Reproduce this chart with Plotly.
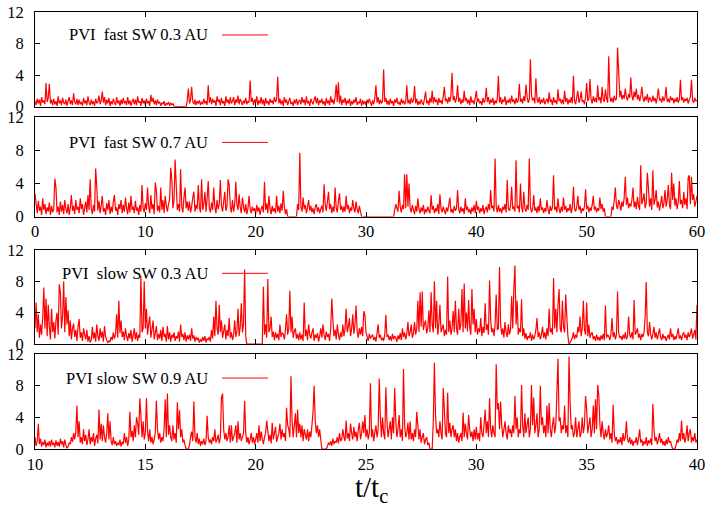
import numpy as np
import plotly.graph_objects as go

# ---------------- data ----------------
fast_t0 = 0.0
fast_dt = 0.1
slow_t0 = 10.0
slow_dt = 0.05

pvi_fast_03 = [
    0.7, 0.2, 1.0, 0.4, 0.9, 0.1, 1.2, 0.5, 0.8, 0.3, 3.0, 0.6, 1.1, 2.9, 0.4, 0.9, 0.2, 1.0, 0.3, 0.7,
    0.1, 1.3, 0.4, 0.8, 0.2, 1.1, 0.5, 0.3, 0.9, 0.1, 0.7, 1.2, 0.3, 0.8, 0.2, 1.7, 0.6, 0.3, 1.0, 0.2,
    0.9, 0.3, 0.6, 0.1, 1.1, 0.4, 0.8, 0.2, 1.3, 0.5, 0.2, 0.9, 0.3, 0.7, 0.1, 1.0, 0.4, 0.6, 1.4, 0.3,
    0.8, 1.9, 0.5, 1.2, 0.2, 0.9, 0.4, 1.1, 0.1, 0.7, 0.3, 1.0, 0.5, 0.2, 1.2, 0.4, 0.8, 0.1, 0.9, 0.3,
    1.1, 0.4, 0.7, 0.2, 1.2, 0.3, 0.8, 0.1, 0.6, 1.0, 0.3, 0.9, 0.2, 1.3, 0.5, 0.7, 0.1, 1.1, 0.4, 0.8,
    0.2, 1.0, 0.4, 0.7, 0.1, 1.5, 0.6, 1.1, 0.3, 0.8, 0.2, 0.9, 0.4, 0.6, 0.1, 0.5, 0.3, 0.7, 0.1, 0.4,
    0.3, 0.6, 0.1, 0.5, 0.2, 0.4, 0.1, 0.0, 0.0, 0.0, 0.0, 0.0, 0.0, 0.0, 0.0, 0.0, 0.0, 0.0, 0.8, 2.3,
    0.4, 0.9, 2.5, 0.6, 0.3, 0.9, 0.2, 0.7, 0.4, 0.8, 0.2, 0.6, 0.3, 1.0, 0.4, 0.7, 0.2, 2.7, 0.5, 1.2,
    0.3, 1.0, 0.5, 0.8, 0.1, 1.3, 0.6, 0.9, 0.2, 1.1, 0.4, 0.7, 0.1, 1.3, 0.5, 0.9, 0.3, 1.2, 0.4, 0.7,
    1.2, 0.2, 0.9, 0.5, 1.4, 0.3, 1.0, 0.6, 0.2, 0.8, 0.4, 1.1, 0.3, 0.7, 0.5, 3.3, 0.6, 1.1, 0.2, 0.9,
    0.5, 1.3, 0.2, 0.8, 0.4, 1.2, 0.3, 0.9, 0.1, 1.1, 0.4, 0.7, 0.2, 1.0, 0.5, 0.8, 0.3, 1.2, 0.6, 0.9,
    3.8, 0.4, 1.0, 0.3, 0.8, 0.1, 1.2, 0.5, 0.9, 0.2, 0.7, 1.1, 0.3, 0.6, 0.1, 0.9, 0.4, 1.0, 0.2, 0.7,
    0.8, 0.3, 1.2, 0.5, 0.9, 0.2, 1.3, 0.4, 0.7, 0.1, 1.0, 0.6, 0.3, 0.9, 1.3, 0.4, 1.1, 0.2, 0.8, 0.5,
    1.0, 0.3, 0.7, 0.1, 1.1, 0.4, 0.8, 0.2, 1.3, 0.5, 0.9, 0.3, 1.2, 2.8, 0.6, 3.1, 0.4, 1.4, 0.2, 0.9,
    0.5, 1.1, 0.2, 0.8, 0.4, 1.0, 0.1, 0.7, 0.3, 0.9, 0.5, 1.2, 0.2, 0.6, 0.4, 1.0, 0.1, 0.8, 0.3, 0.7,
    0.2, 0.9, 0.4, 1.0, 0.6, 0.1, 0.8, 0.3, 1.1, 2.7, 0.5, 1.2, 0.3, 0.9, 0.4, 0.7, 4.7, 0.6, 1.1, 0.3,
    0.8, 0.2, 1.0, 0.4, 0.7, 0.1, 0.9, 0.5, 1.1, 0.3, 0.6, 0.2, 1.0, 0.4, 0.8, 0.3, 0.6, 2.7, 0.4, 0.9,
    0.3, 1.1, 0.5, 0.8, 2.6, 0.4, 1.0, 0.2, 0.7, 0.3, 0.9, 0.5, 0.2, 1.0, 1.9, 0.4, 0.8, 0.2, 1.1, 0.5,
    2.0, 0.4, 1.2, 0.6, 0.9, 0.2, 1.1, 0.5, 0.8, 0.3, 1.3, 2.5, 0.7, 1.0, 0.4, 1.2, 0.6, 1.5, 4.3, 0.8,
    1.3, 0.5, 1.0, 2.7, 0.6, 1.1, 0.3, 0.9, 0.5, 2.0, 0.7, 1.1, 0.4, 0.9, 0.2, 1.3, 0.5, 0.8, 0.3, 1.1,
    2.0, 0.6, 1.0, 0.4, 0.7, 0.2, 1.1, 0.5, 0.8, 2.4, 0.6, 1.2, 0.3, 0.9, 0.5, 1.1, 0.2, 0.8, 0.4, 1.0,
    3.9, 0.5, 1.2, 0.3, 0.9, 0.6, 1.3, 0.2, 0.8, 0.5, 1.0, 0.4, 1.4, 0.6, 0.9, 0.3, 1.1, 0.5, 0.8, 2.9,
    0.6, 1.0, 0.4, 1.3, 0.7, 2.8, 1.3, 0.5, 0.9, 6.0, 1.5, 0.8, 1.1, 0.4, 3.6, 0.9, 0.5, 1.2, 0.3, 0.9,
    0.5, 1.1, 0.3, 0.7, 1.0, 0.4, 1.8, 0.6, 0.9, 0.2, 1.2, 0.5, 0.8, 0.3, 2.2, 0.7, 1.0, 0.4, 0.9, 0.3,
    2.0, 0.6, 1.1, 0.3, 0.9, 0.5, 1.2, 0.4, 3.9, 0.7, 0.3, 1.2, 2.0, 0.5, 0.9, 1.9, 0.6, 0.8, 0.3, 1.2,
    3.0, 0.7, 1.0, 3.5, 0.9, 0.4, 1.3, 0.6, 1.1, 0.5, 2.7, 0.8, 1.2, 0.4, 2.5, 0.9, 0.6, 2.2, 1.0, 0.5,
    6.4, 1.3, 0.6, 1.1, 0.5, 1.4, 0.8, 1.0, 7.5, 4.5, 1.2, 2.0, 0.9, 1.5, 1.0, 2.3, 1.2, 0.8, 1.6, 1.1,
    3.7, 1.4, 0.8, 1.9, 1.2, 2.3, 0.9, 1.5, 0.7, 1.3, 2.5, 1.1, 0.6, 1.3, 0.8, 1.6, 0.5, 1.2, 0.9, 0.6,
    1.4, 0.7, 1.1, 0.4, 1.2, 2.3, 0.8, 1.0, 0.5, 1.3, 0.7, 1.1, 2.5, 0.6, 1.0, 0.5, 1.3, 0.8, 1.1, 0.4,
    1.0, 0.6, 1.2, 0.5, 0.9, 3.4, 0.8, 1.2, 0.5, 1.0, 0.7, 1.1, 0.4, 0.9, 1.2, 3.4, 0.8, 0.5, 1.1, 0.7,
    0.8,
]

pvi_fast_07 = [
    2.8, 1.6, 0.4, 1.9, 0.7, 1.2, 0.2, 2.2, 0.8, 1.5, 0.3, 1.1, 0.6, 1.7, 0.2, 1.3, 0.5, 0.9, 4.6, 3.5,
    0.5, 1.2, 0.2, 1.8, 0.6, 1.4, 0.3, 2.0, 0.9, 0.4, 1.5, 0.2, 1.1, 2.6, 0.7, 1.3, 0.3, 2.0, 0.8, 1.2,
    0.4, 2.2, 0.9, 1.5, 0.2, 1.0, 1.8, 0.5, 2.6, 0.8, 4.5, 1.0, 0.3, 1.4, 0.6, 5.8, 3.5, 0.7, 1.9, 0.4,
    1.3, 2.5, 0.6, 1.0, 0.2, 1.6, 0.8, 2.0, 0.3, 1.2, 0.5, 1.8, 2.6, 0.7, 1.1, 0.2, 1.5, 0.9, 2.0, 0.4,
    1.4, 0.6, 2.3, 1.0, 0.3, 1.7, 0.5, 2.5, 0.8, 1.2, 0.4, 1.9, 0.7, 1.1, 0.2, 1.4, 0.6, 3.8, 1.0, 0.5,
    1.6, 0.8, 3.5, 1.2, 0.4, 2.6, 0.9, 1.5, 0.3, 4.1, 3.1, 0.7, 1.3, 0.5, 3.5, 0.8, 2.0, 0.4, 2.5, 1.3,
    0.6, 1.5, 2.0, 5.9, 4.5, 1.0, 2.0, 6.9, 3.8, 0.8, 1.5, 0.6, 5.7, 1.2, 0.5, 2.3, 3.5, 1.0, 1.8, 0.7,
    1.8, 0.5, 1.2, 2.3, 3.0, 0.6, 1.4, 0.9, 3.8, 1.1, 0.5, 4.5, 0.8, 1.5, 3.0, 0.6, 2.2, 4.3, 1.0, 0.5,
    1.7, 0.8, 3.5, 1.2, 0.4, 2.0, 0.9, 1.5, 4.4, 1.3, 0.6, 1.8, 3.0, 0.7, 1.2, 4.5, 3.8, 1.2, 0.5, 2.0,
    0.6, 1.4, 4.2, 1.5, 0.8, 2.7, 1.1, 0.4, 2.3, 1.2, 0.5, 1.5, 0.3, 1.0, 2.5, 0.9, 0.4, 1.2, 0.7, 1.0,
    0.3, 1.4, 0.6, 1.1, 0.2, 0.9, 1.3, 0.5, 4.2, 0.8, 1.6, 0.4, 2.5, 1.0, 0.3, 1.3, 0.6, 1.0, 0.4, 2.5,
    0.6, 1.3, 0.4, 1.6, 0.7, 3.1, 1.2, 0.3, 0.9, 0.0, 0.0, 0.0, 0.0, 0.0, 0.0, 0.0, 0.0, 0.0, 1.5, 0.8,
    7.7, 1.2, 0.6, 2.3, 0.9, 1.4, 0.4, 1.1, 2.0, 0.7, 1.3, 0.5, 1.0, 0.3, 1.2, 1.5, 0.6, 1.1, 0.4, 0.9,
    1.3, 0.5, 3.9, 1.4, 0.7, 1.8, 3.0, 0.9, 1.5, 0.4, 1.2, 0.6, 3.5, 1.0, 0.5, 1.9, 2.8, 0.8, 1.3, 0.5,
    1.2, 0.6, 2.5, 0.9, 1.4, 0.4, 1.1, 0.7, 2.0, 1.0, 0.5, 1.8, 0.9, 0.4, 1.3, 0.6, 0.0, 0.0, 0.0, 0.0,
    0.0, 0.0, 0.0, 0.0, 0.0, 0.0, 0.0, 0.0, 0.0, 0.0, 0.0, 0.0, 0.0, 0.0, 0.0, 0.0, 0.0, 0.0, 0.0, 0.0,
    0.0, 0.0, 0.0, 0.0, 0.0, 0.0, 0.8, 1.5, 1.0, 0.6, 3.1, 1.2, 0.5, 1.4, 0.9, 5.1, 1.0, 5.1, 1.2, 4.0,
    1.0, 0.5, 1.4, 0.8, 0.3, 1.3, 0.6, 2.2, 0.9, 0.4, 1.1, 0.6, 1.4, 0.3, 0.9, 0.5, 1.2, 0.7, 0.4, 2.6,
    0.8, 1.3, 0.4, 1.0, 0.6, 1.5, 0.3, 2.7, 0.9, 0.5, 1.2, 0.7, 0.3, 1.1, 0.6, 1.4, 2.3, 0.5, 0.9, 0.4,
    1.3, 0.7, 1.0, 3.2, 0.9, 0.4, 1.2, 0.6, 1.0, 0.3, 2.2, 0.8, 1.2, 0.5, 0.9, 0.3, 1.1, 0.6, 1.4, 0.4,
    1.9, 0.8, 1.2, 0.4, 1.0, 0.6, 1.4, 0.3, 0.9, 1.2, 0.5, 1.5, 0.8, 3.2, 1.0, 1.3, 0.6, 7.0, 1.2, 0.5,
    1.4, 0.6, 1.0, 0.4, 1.2, 0.8, 1.5, 0.5, 4.4, 1.0, 0.7, 1.3, 3.6, 0.9, 1.2, 0.6, 6.8, 1.0, 1.3, 0.5,
    4.0, 1.2, 0.5, 3.0, 1.0, 0.6, 1.4, 0.8, 7.0, 1.2, 0.5, 0.9, 2.6, 0.7, 1.1, 0.4, 1.3, 0.6, 2.2, 0.8,
    1.1, 0.4, 1.0, 0.6, 2.0, 0.9, 0.3, 1.3, 0.7, 1.1, 5.0, 0.8, 1.2, 0.5, 2.2, 0.9, 0.4, 1.2, 0.6, 2.3,
    0.8, 1.3, 0.5, 1.0, 0.7, 1.5, 0.4, 1.1, 3.6, 1.0, 0.6, 1.2, 2.5, 0.8, 1.3, 0.4, 1.0, 0.7, 1.2, 3.3,
    0.9, 1.3, 0.5, 1.1, 0.7, 1.4, 2.5, 0.8, 1.2, 0.5, 1.0, 0.7, 2.3, 0.9, 1.5, 0.6, 1.0, 0.0, 0.0, 0.0,
    0.0, 0.0, 0.0, 1.2, 0.8, 2.0, 3.5, 1.3, 0.9, 2.0, 1.5, 0.7, 1.8, 1.2, 2.3, 4.8, 1.4, 2.3, 1.0, 1.6,
    1.2, 2.0, 3.5, 1.1, 1.8, 0.9, 2.4, 1.3, 0.8, 6.2, 1.5, 2.0, 2.8, 1.0, 1.7, 5.3, 3.5, 1.2, 2.2, 0.8,
    5.6, 1.4, 2.0, 3.2, 1.1, 1.8, 0.7, 1.5, 2.5, 1.0, 1.6, 3.2, 1.2, 2.0, 3.8, 1.4, 0.9, 5.3, 2.0, 4.0,
    1.3, 2.2, 0.9, 1.7, 4.3, 1.5, 2.0, 1.0, 3.0, 1.4, 2.2, 0.9, 4.7, 5.0, 1.5, 4.8, 2.0, 2.7, 1.2, 1.8,
    2.5,
]

pvi_slow_03 = [
    2.0, 5.3, 1.5, 3.8, 0.8, 2.5, 1.2, 3.3, 7.2, 2.0, 5.8, 1.0, 5.0, 2.2, 0.6, 4.5, 1.5, 2.8, 0.7, 3.0,
    4.0, 1.2, 7.6, 6.6, 2.0, 3.5, 8.0, 1.5, 6.0, 2.5, 4.3, 1.0, 3.0, 0.6, 2.0, 2.6, 0.9, 1.8, 0.4, 2.2,
    3.2, 0.8, 1.5, 0.4, 2.0, 1.2, 0.6, 1.8, 0.3, 1.0, 0.2, 0.5, 2.2, 0.7, 1.5, 0.3, 2.5, 1.0, 0.4, 2.0,
    0.8, 1.6, 0.3, 2.3, 0.9, 0.5, 0.2, 0.4, 0.3, 0.9, 0.5, 1.5, 0.7, 1.2, 3.8, 0.8, 5.5, 1.4, 3.0, 0.9,
    1.6, 0.5, 2.0, 1.0, 0.4, 1.4, 0.7, 1.8, 0.3, 1.1, 2.0, 0.6, 1.5, 0.4, 1.2, 0.8, 8.7, 1.5, 2.0, 8.0,
    2.0, 4.5, 1.2, 2.5, 3.5, 0.8, 1.8, 3.0, 0.6, 1.4, 2.3, 0.5, 1.3, 0.7, 1.8, 0.4, 2.2, 0.9, 1.3, 0.3,
    2.3, 0.6, 1.5, 0.3, 1.2, 0.8, 1.5, 0.4, 1.0, 0.7, 1.6, 0.3, 2.5, 0.9, 1.3, 0.5, 1.5, 0.3, 1.1, 0.6,
    1.2, 0.4, 2.0, 0.7, 1.1, 0.3, 0.9, 0.5, 0.8, 0.2, 0.6, 0.3, 0.9, 0.4, 1.0, 0.2, 0.7, 0.5, 0.9, 0.3,
    1.8, 0.7, 3.5, 1.0, 5.5, 2.0, 1.2, 5.0, 1.5, 3.0, 0.8, 1.6, 2.5, 0.6, 1.8, 1.0, 3.3, 0.8, 1.5, 0.5,
    1.2, 3.0, 0.9, 1.6, 4.5, 1.0, 2.2, 5.2, 1.5, 2.5, 9.5, 1.0, 0.0, 0.0, 0.0, 0.0, 0.0, 0.0, 0.0, 0.0,
    0.0, 0.0, 0.0, 0.0, 0.0, 0.0, 0.0, 7.3, 1.2, 2.5, 0.8, 8.3, 1.5, 2.0, 3.5, 0.9, 1.6, 0.5, 1.5, 0.8,
    1.3, 0.5, 2.5, 0.9, 1.4, 1.3, 0.6, 1.8, 3.8, 1.2, 2.0, 6.8, 1.5, 3.5, 0.8, 1.6, 2.0, 0.7, 1.3, 0.5,
    1.5, 0.6, 1.2, 0.4, 5.3, 1.0, 1.8, 0.5, 2.5, 1.2, 0.7, 1.5, 2.0, 0.4, 1.2, 0.8, 1.4, 0.3, 1.0, 2.0,
    0.8, 2.5, 1.2, 0.5, 1.6, 0.9, 1.3, 0.4, 2.0, 5.8, 3.0, 1.0, 1.8, 0.6, 2.5, 1.2, 0.5, 1.5, 0.9, 2.5,
    1.0, 2.0, 4.5, 1.5, 2.2, 3.3, 1.0, 2.0, 3.8, 1.3, 2.5, 4.9, 1.6, 0.8, 2.0, 1.2, 2.2, 1.0, 4.2, 3.7,
    1.5, 1.0, 0.4, 1.3, 0.7, 1.0, 1.2, 0.5, 0.9, 0.3, 1.4, 2.5, 0.8, 1.2, 0.5, 0.8, 0.4, 1.2, 3.7, 0.9,
    1.2, 0.5, 1.0, 0.4, 1.3, 0.6, 1.0, 0.8, 0.3, 1.1, 0.6, 1.4, 0.5, 2.0, 0.9, 1.5, 0.6, 1.3, 2.8, 1.0,
    1.5, 2.5, 0.8, 1.4, 2.8, 1.2, 2.0, 5.5, 1.5, 6.6, 2.2, 6.7, 1.8, 2.5, 3.0, 1.4, 2.0, 4.3, 1.5, 6.6,
    2.5, 1.5, 8.0, 2.0, 5.5, 1.2, 2.5, 5.0, 1.5, 2.0, 2.5, 1.0, 1.8, 1.2, 8.6, 1.5, 3.0, 1.2, 2.0, 4.2,
    1.5, 5.5, 2.0, 1.2, 4.5, 1.8, 2.5, 7.0, 1.5, 7.7, 2.0, 4.0, 1.6, 5.6, 2.2, 1.2, 7.0, 2.5, 4.5, 1.5,
    3.2, 1.2, 2.0, 1.5, 3.3, 1.0, 2.2, 1.4, 5.2, 1.8, 2.5, 1.2, 8.1, 3.0, 1.5, 2.0, 1.0, 2.5, 6.3, 1.8,
    2.0, 9.8, 2.5, 1.2, 2.0, 0.8, 2.8, 1.5, 0.9, 2.5, 1.2, 1.8, 6.1, 2.0, 7.0, 10.0, 2.5, 5.5, 1.2, 2.0,
    1.5, 5.7, 1.0, 2.0, 0.7, 1.4, 0.5, 1.0, 0.8, 1.5, 0.4, 1.2, 0.6, 1.0, 1.8, 3.3, 0.9, 1.5, 0.6, 1.2,
    2.2, 0.8, 1.5, 0.6, 2.0, 1.0, 4.5, 1.5, 2.0, 1.2, 8.4, 2.0, 4.5, 1.5, 5.0, 7.0, 2.0, 1.5, 5.5, 2.2,
    1.5, 6.3, 3.5, 1.0, 0.0, 0.2, 0.5, 0.8, 1.5, 0.6, 1.2, 0.8, 2.2, 1.5, 3.5, 1.0, 2.0, 5.5, 1.8, 1.2,
    5.3, 1.0, 2.5, 0.8, 1.3, 1.5, 0.6, 1.0, 0.4, 1.2, 0.5, 0.9, 0.4, 1.1, 0.6, 1.3, 0.5, 4.9, 0.8, 1.2,
    1.0, 0.5, 1.3, 3.3, 0.9, 1.5, 0.6, 1.2, 6.7, 1.5, 0.8, 1.0, 0.5, 1.2, 0.7, 1.5, 0.6, 1.0, 3.5, 1.2,
    0.8, 1.5, 0.6, 5.6, 1.2, 1.5, 2.0, 0.8, 1.3, 0.5, 1.3, 0.9, 1.5, 3.5, 7.9, 1.5, 1.0, 2.8, 1.2, 0.6,
    1.3, 2.2, 0.8, 1.5, 0.6, 1.2, 2.0, 0.9, 0.5, 1.3, 0.7, 1.0, 0.4, 0.8, 1.2, 0.6, 2.0, 0.9, 1.3, 0.5,
    1.0, 0.6, 1.3, 2.0, 0.7, 1.1, 0.5, 1.2, 1.5, 0.8, 1.2, 0.5, 1.5, 0.9, 1.3, 2.0, 0.7, 1.2, 1.8, 0.6,
    5.0,
]

pvi_slow_09 = [
    1.5, 0.4, 1.0, 3.2, 0.6, 1.3, 0.3, 0.9, 0.5, 1.2, 0.2, 0.8, 0.4, 1.0, 0.3, 1.2, 0.5, 0.8, 0.2, 1.1,
    0.4, 0.9, 0.3, 1.3, 0.6, 1.0, 0.2, 1.2, 0.5, 0.1, 0.3, 0.8, 0.6, 1.5, 0.9, 2.0, 1.2, 2.2, 5.5, 1.5,
    3.5, 0.8, 1.5, 0.6, 2.5, 1.0, 1.8, 0.5, 1.2, 2.5, 0.6, 1.5, 0.9, 2.0, 0.4, 1.3, 1.8, 0.7, 5.0, 1.2,
    3.2, 1.0, 3.0, 1.5, 0.8, 2.0, 4.5, 1.2, 3.5, 1.0, 0.5, 1.5, 0.6, 1.0, 0.4, 0.8, 0.5, 1.2, 0.3, 0.9,
    0.6, 2.0, 0.8, 1.5, 0.4, 1.2, 4.7, 1.5, 2.3, 1.0, 3.0, 1.5, 4.0, 3.3, 1.8, 6.4, 4.2, 1.5, 3.5, 1.2,
    2.0, 6.4, 2.2, 1.0, 2.5, 0.8, 1.5, 0.6, 1.2, 2.0, 6.1, 2.5, 1.2, 2.0, 0.8, 1.5, 1.0, 2.5, 6.3, 1.5,
    7.0, 1.8, 3.0, 1.5, 1.0, 3.0, 1.2, 2.0, 0.8, 5.9, 2.5, 4.9, 1.5, 2.5, 0.8, 1.2, 0.5, 0.0, 0.0, 0.0,
    0.5, 1.5, 2.2, 1.0, 6.0, 1.5, 0.8, 2.0, 0.6, 1.3, 0.4, 1.0, 0.6, 1.3, 0.5, 1.0, 4.2, 1.5, 0.8, 1.2,
    0.6, 1.5, 1.0, 2.5, 0.8, 1.2, 1.8, 0.7, 1.5, 6.5, 7.0, 2.5, 1.2, 2.0, 1.0, 1.5, 3.0, 0.8, 3.0, 1.0,
    1.5, 2.0, 3.0, 0.8, 3.5, 1.2, 2.0, 1.0, 1.5, 2.0, 6.1, 2.0, 0.8, 1.5, 0.6, 1.2, 2.0, 0.8, 1.5, 0.6,
    1.2, 2.0, 0.8, 3.0, 1.0, 2.2, 1.3, 0.6, 1.5, 2.0, 3.6, 2.3, 1.0, 1.8, 0.7, 3.3, 1.2, 2.0, 2.8, 0.9,
    1.5, 2.0, 3.2, 1.2, 2.5, 1.5, 2.0, 1.0, 5.2, 3.0, 2.5, 1.5, 9.2, 3.5, 1.5, 3.0, 4.5, 1.5, 5.0, 2.0,
    3.2, 1.5, 3.0, 1.0, 2.5, 1.8, 1.2, 2.5, 1.0, 2.2, 1.5, 3.0, 4.7, 8.0, 3.5, 2.0, 3.0, 1.5, 2.5, 1.2,
    0.0, 0.0, 0.0, 0.0, 0.0, 0.3, 0.8, 0.5, 1.0, 0.4, 1.3, 0.6, 1.0, 0.8, 1.5, 0.7, 2.0, 1.0, 1.2, 2.5,
    1.5, 1.0, 3.6, 1.3, 2.0, 1.0, 3.2, 2.0, 1.2, 2.8, 1.5, 2.2, 1.0, 2.5, 3.3, 1.2, 2.0, 3.5, 2.0, 4.3,
    1.5, 2.5, 1.2, 2.0, 8.3, 1.5, 2.5, 1.0, 2.0, 3.0, 1.5, 2.5, 8.9, 4.0, 1.5, 4.0, 2.0, 1.2, 7.8, 3.5,
    1.5, 2.5, 3.5, 1.2, 4.0, 2.0, 7.7, 3.5, 1.5, 2.5, 4.3, 1.5, 2.5, 1.0, 10.1, 3.0, 1.5, 2.0, 3.3, 1.2,
    3.5, 1.2, 2.0, 1.0, 2.5, 1.5, 4.7, 3.0, 1.2, 2.5, 0.8, 1.5, 2.0, 0.6, 1.2, 1.5, 0.5, 0.8, 0.0, 0.0,
    0.0, 3.5, 10.9, 4.3, 2.0, 2.5, 1.5, 3.5, 2.0, 1.2, 7.7, 5.0, 2.0, 1.5, 7.1, 2.0, 3.3, 1.5, 2.5, 3.0,
    1.5, 2.5, 1.0, 2.0, 0.8, 1.5, 2.0, 1.0, 4.6, 1.5, 3.2, 2.0, 1.2, 4.3, 2.5, 1.5, 2.2, 1.0, 2.5, 1.2,
    2.8, 1.2, 2.0, 1.0, 4.0, 2.0, 1.5, 3.0, 5.0, 2.0, 3.5, 1.5, 6.4, 2.5, 1.5, 3.0, 2.0, 1.5, 10.7, 5.0,
    5.8, 2.5, 6.0, 3.0, 1.5, 2.5, 3.5, 2.0, 1.2, 3.0, 2.0, 2.5, 1.5, 3.0, 2.0, 6.7, 2.5, 4.0, 1.5, 2.5,
    2.0, 8.1, 3.0, 1.5, 4.5, 2.0, 3.0, 4.0, 1.5, 2.5, 8.1, 3.0, 6.5, 2.0, 3.0, 4.5, 1.5, 2.5, 8.0, 3.0,
    4.0, 2.0, 3.0, 1.5, 5.5, 2.0, 5.8, 2.5, 1.5, 3.0, 4.0, 2.0, 3.0, 7.0, 11.4, 3.5, 4.0, 2.0, 3.0, 2.5,
    5.5, 2.0, 3.0, 1.5, 11.7, 6.0, 2.5, 3.0, 1.5, 2.0, 4.0, 1.5, 2.5, 3.5, 1.5, 2.0, 4.0, 2.0, 3.0, 6.7,
    5.0, 2.0, 3.0, 4.0, 1.5, 2.5, 5.5, 2.0, 6.3, 2.5, 8.1, 6.8, 3.0, 1.5, 3.5, 2.0, 1.2, 2.5, 1.5, 2.0,
    3.0, 1.2, 2.0, 0.8, 5.6, 2.0, 1.0, 1.5, 0.6, 1.2, 0.8, 1.5, 0.5, 2.0, 1.0, 1.5, 3.5, 1.2, 0.8, 1.5,
    0.6, 1.2, 0.4, 1.0, 0.8, 1.5, 0.5, 1.3, 2.5, 0.8, 1.2, 0.4, 1.0, 0.6, 1.5, 0.4, 1.1, 0.7, 1.3, 0.5,
    5.7, 2.5, 1.0, 1.5, 0.6, 1.2, 2.0, 0.8, 1.3, 0.5, 1.0, 0.4, 1.2, 0.6, 1.5, 0.8, 1.0, 0.4, 0.0, 0.0,
    0.0, 0.5, 1.2, 0.8, 2.0, 1.0, 3.6, 1.2, 2.0, 0.8, 1.5, 3.0, 1.0, 2.0, 2.5, 0.8, 1.5, 1.0, 2.0, 0.8,
    1.2,
]

panel_labels = ["PVI\u00a0\u00a0fast SW 0.3 AU", "PVI\u00a0\u00a0fast SW 0.7 AU",
                "PVI\u00a0\u00a0slow SW 0.3 AU", "PVI slow SW 0.9 AU"]
y_ticks = [0, 4, 8, 12]
x_ticks_fast = [0, 10, 20, 30, 40, 50, 60]
x_ticks_slow = [10, 15, 20, 25, 30, 35, 40]

# ---------------- layout geometry (window pixels) ----------------
W, H = 707, 507
PL, PR, PT, PB = 35.0, 697.0, 12.0, 449.3  # plotting block in window pixels
PW, PH = PR - PL, PB - PT
panel_px = [(12.0, 106.7), (117.3, 216.7), (250.0, 344.3), (354.3, 449.3)]  # (top, bottom)
legend_y_px = [35, 142.5, 273.5, 378.3]


def px_x(p):
    return (p - PL) / PW


def px_y(p):
    return (PB - p) / PH


series = [pvi_fast_03, pvi_fast_07, pvi_slow_03, pvi_slow_09]
times = [fast_t0 + fast_dt * np.arange(len(pvi_fast_03)),
         fast_t0 + fast_dt * np.arange(len(pvi_fast_07)),
         slow_t0 + slow_dt * np.arange(len(pvi_slow_03)),
         slow_t0 + slow_dt * np.arange(len(pvi_slow_09))]

FONT = "Liberation Serif"
RED = "#ff0000"

fig = go.Figure()
for i, (tx, vy) in enumerate(zip(times, series)):
    sfx = "" if i == 0 else str(i + 1)
    fig.add_trace(go.Scatter(x=tx, y=vy, mode="lines",
                             line=dict(color=RED, width=1.2, simplify=False),
                             xaxis="x" + sfx, yaxis="y" + sfx,
                             showlegend=False, hoverinfo="skip"))

axis_common = dict(showline=True, mirror="ticks", linecolor="black", linewidth=1,
                   ticks="inside", ticklen=5, tickcolor="black", tickwidth=1,
                   showgrid=False, zeroline=False, automargin=False,
                   ticklabeloverflow="allow",
                   tickfont=dict(family=FONT, size=16.5, color="black"))

layout = dict(template="none", width=W, height=H,
              margin=dict(l=PL, r=W - PR, t=PT, b=H - PB, autoexpand=False),
              paper_bgcolor="white", plot_bgcolor="white", showlegend=False)

for i, (top, bot) in enumerate(panel_px):
    sfx = "" if i == 0 else str(i + 1)
    if i < 2:
        xr, xt = [0, 60], x_ticks_fast
    else:
        xr, xt = [10, 40], x_ticks_slow
    layout["xaxis" + sfx] = dict(axis_common, domain=[0, 1], range=xr, tickvals=xt,
                                 showticklabels=(i in (1, 3)), anchor="y" + sfx)
    layout["yaxis" + sfx] = dict(axis_common, domain=[px_y(bot), px_y(top)], range=[0, 12],
                                 tickvals=y_ticks, anchor="x" + sfx, ticklabelstandoff=7)

annotations = []
shapes = []
for i, lab in enumerate(panel_labels):
    yp = px_y(legend_y_px[i])
    annotations.append(dict(text=lab, xref="paper", yref="paper", x=px_x(210), y=yp,
                            xanchor="right", yanchor="middle", showarrow=False,
                            font=dict(family=FONT, size=16.5, color="black")))
    shapes.append(dict(type="line", xref="paper", yref="paper",
                       x0=px_x(222), x1=px_x(268), y0=yp, y1=yp,
                       line=dict(color=RED, width=1)))

annotations.append(dict(text="t/t<sub>c</sub>", xref="paper", yref="paper",
                        x=px_x(371), y=px_y(489), xanchor="center", yanchor="middle",
                        showarrow=False, font=dict(family=FONT, size=29, color="black")))

layout["annotations"] = annotations
layout["shapes"] = shapes
fig.update_layout(**layout)

# place the figure flush with the window corner (no default page margin), no toolbar
fig.write_html("out.html",
               config={"displayModeBar": False},
               post_script="document.body.style.margin='0';document.body.style.overflow='hidden';")
